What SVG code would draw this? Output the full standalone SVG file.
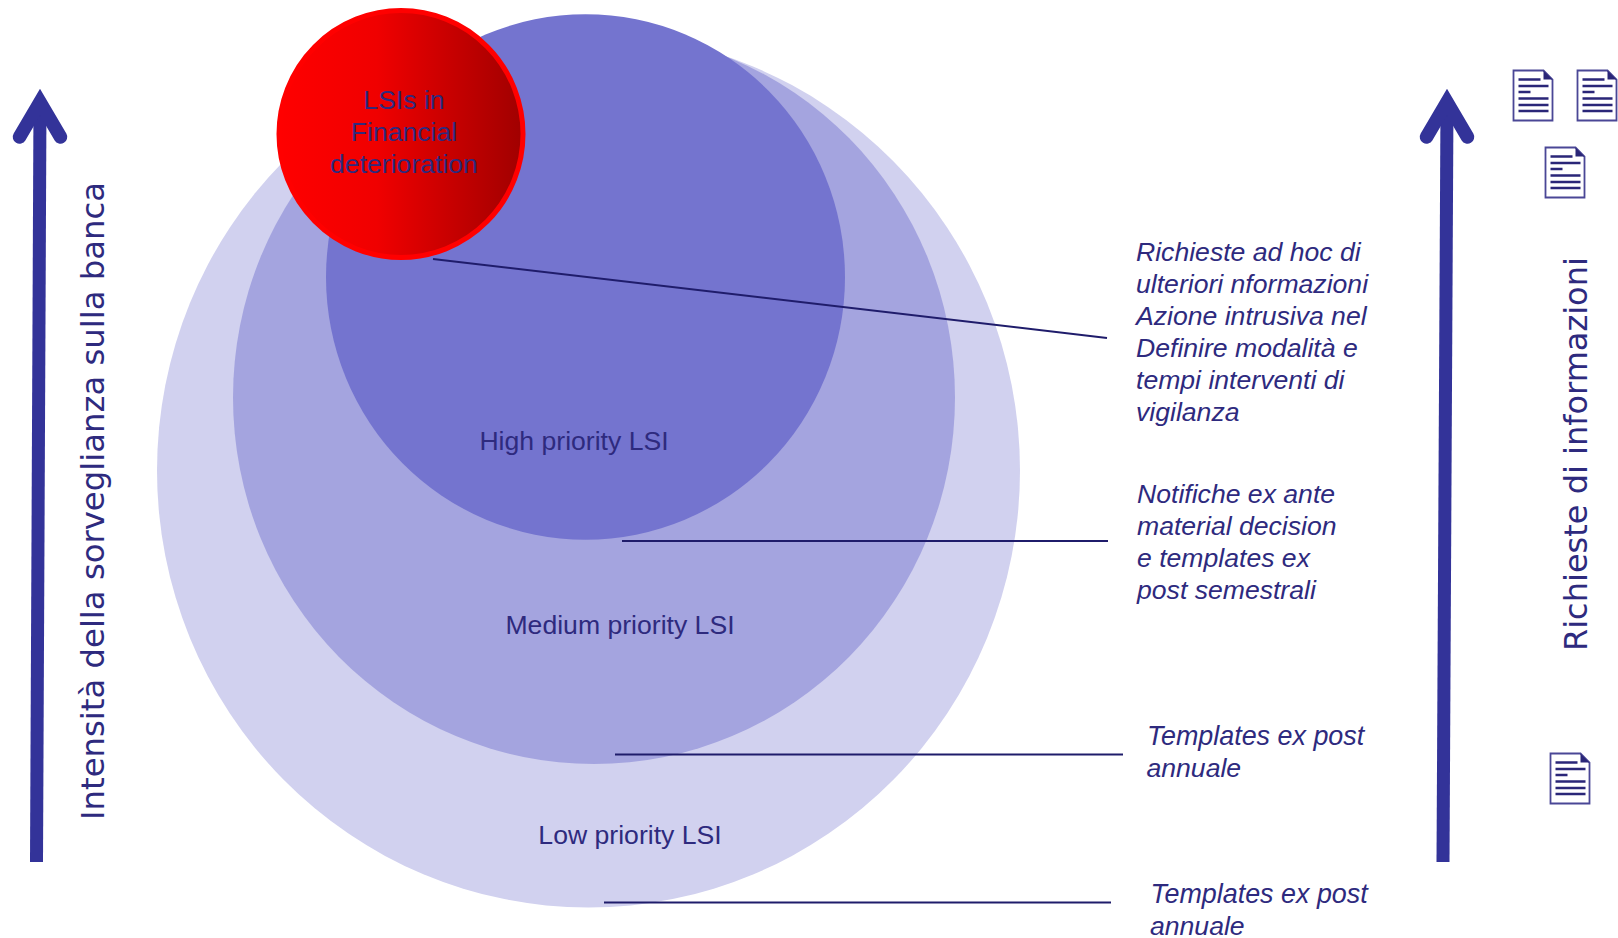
<svg xmlns="http://www.w3.org/2000/svg" width="1618" height="938" viewBox="0 0 1618 938">
<style>
text{font-family:"Liberation Sans",Arial,sans-serif;fill:#2e2a7e;font-size:26.6px}
.n{text-anchor:middle}
.i{font-style:italic}
.t{font-size:26.900px}
.v{font-family:"DejaVu Sans",Verdana,sans-serif;font-size:32px}
.c{stroke:#1f1c6b;stroke-width:2;fill:none}
.s{stroke:#333399;stroke-width:13;fill:none}
.h{stroke:#333399;stroke-width:13.500;fill:none;stroke-linecap:round;stroke-miterlimit:10}
.dl{stroke:#2a2678;stroke-width:2.600}
</style>
<defs>
<linearGradient id="red" x1="0" y1="0" x2="1" y2="0"><stop offset="0" stop-color="#ff0000"/><stop offset="0.4" stop-color="#f00000"/><stop offset="1" stop-color="#a00000"/></linearGradient>
<symbol id="doc" width="42" height="54" viewBox="0 0 42 54" overflow="visible">
<path d="M1,1H31L40,10V51H1Z" fill="#fff" stroke="#4a4796" stroke-width="1.800"/>
<path d="M31,1L40,10H31Z" fill="#2a2678"/>
<path class="dl" d="M6,10H28M6,16.500H36M6,22.500H18M6,29H36M6,35.500H36M6,41.500H36"/>
</symbol>
</defs>
<g id="low"><ellipse cx="588.500" cy="470.500" rx="431.500" ry="437" fill="#d1d1ef"/><text class="n" x="630" y="844">Low priority LSI</text></g>
<g id="medium"><ellipse cx="594" cy="397.500" rx="361" ry="366.500" fill="#a4a4df"/><text class="n" x="620" y="634">Medium priority LSI</text></g>
<g id="high"><ellipse cx="585.500" cy="277" rx="259.500" ry="262.700" fill="#7474cf"/><text class="n" x="574" y="450">High priority LSI</text></g>
<g id="deterioration"><ellipse cx="401" cy="134" rx="122" ry="123.500" fill="url(#red)" stroke="#ff0000" stroke-width="5"/><text class="n" x="404" y="109">LSIs in</text><text class="n" x="404" y="141">Financial</text><text class="n" x="404" y="173">deterioration</text></g>
<g id="connectors">
<path class="c" d="M433,259L1107,338"/>
<path class="c" d="M622,541H1108"/>
<path class="c" d="M615,754.500H1123"/>
<path class="c" d="M604,902.500H1111"/>
</g>
<g id="arrow-left"><path class="s" d="M36.500,862L40,102"/><path class="h" d="M19.500,137L40,102L60.500,137"/><text class="v" style="font-size:32.3px" transform="translate(103.500,820) rotate(-90)">Intensità della sorveglianza sulla banca</text></g>
<g id="arrow-right"><path class="s" d="M1443,862L1447,102"/><path class="h" d="M1426.500,137L1447,102L1467.500,137"/><text class="v" transform="translate(1587,651) rotate(-90)">Richieste di informazioni</text></g>
<g id="docs"><use href="#doc" x="1512.500" y="69.500"/><use href="#doc" x="1576.500" y="69.500"/><use href="#doc" x="1544.500" y="146.500"/><use href="#doc" x="1549.500" y="752.500"/></g>
<g id="note-1"><text class="i" x="1136" y="261">Richieste ad hoc di</text><text class="i" x="1136" y="293">ulteriori nformazioni</text><text class="i" x="1136" y="325">Azione intrusiva nel</text><text class="i" x="1136" y="357">Definire modalità e</text><text class="i" x="1136" y="389">tempi interventi di</text><text class="i" x="1136" y="421">vigilanza</text></g>
<g id="note-2"><text class="i" x="1137" y="503">Notifiche ex ante</text><text class="i" x="1137" y="535">material decision</text><text class="i" x="1137" y="567">e templates ex</text><text class="i" x="1137" y="599">post semestrali</text></g>
<g id="note-3"><text class="i t" x="1147" y="745">Templates ex post</text><text class="i" x="1146.500" y="777">annuale</text></g>
<g id="note-4"><text class="i t" x="1150.500" y="903">Templates ex post</text><text class="i" x="1150" y="935">annuale</text></g>
</svg>
